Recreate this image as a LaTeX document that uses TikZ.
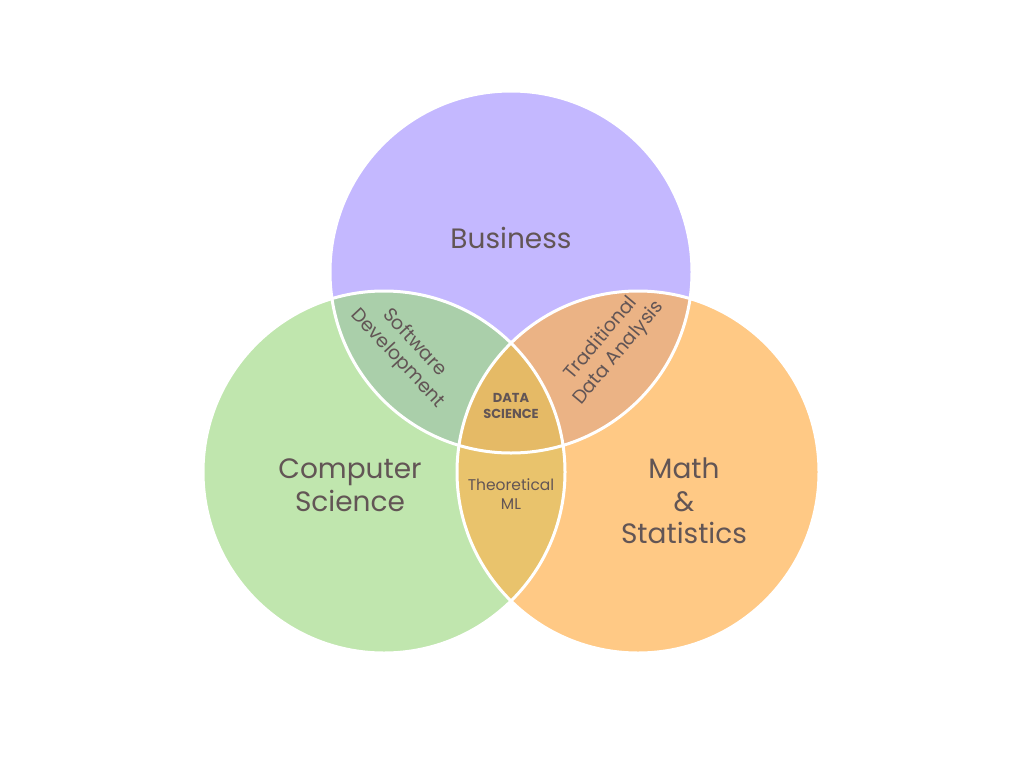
\documentclass[tikz,border=0pt]{standalone}
\usepackage{fontspec}
\setmainfont{Poppins}
\begin{document}
\begin{tikzpicture}[x=1pt,y=-1pt,
  lbl/.style={text=txt, align=center, inner sep=0pt},
  big/.style={lbl, font=\fontsize{28}{32.5}\selectfont},
  small/.style={lbl, font=\fontsize{19}{23}\selectfont},
  tiny/.style={lbl, font=\fontsize{15.5}{19}\selectfont}]
\definecolor{bus}{HTML}{C4B8FF}
\definecolor{cs}{HTML}{C0E6AE}
\definecolor{mat}{HTML}{FFC985}
\definecolor{buscs}{HTML}{AACFAA}
\definecolor{busmat}{HTML}{EBB385}
\definecolor{csmat}{HTML}{E9C36C}
\definecolor{core}{HTML}{E5BA66}
\definecolor{txt}{HTML}{625555}
\useasboundingbox[fill=white] (0,0) rectangle (1024,768);
\def\R{181}
\coordinate (B) at (511,272);
\coordinate (C) at (384,472);
\coordinate (M) at (638,472);
% base discs
\fill[bus] (B) circle (\R);
\fill[cs] (C) circle (\R);
\fill[mat] (M) circle (\R);
% pairwise overlaps
\begin{scope}\clip (B) circle (\R); \fill[buscs] (C) circle (\R); \end{scope}
\begin{scope}\clip (B) circle (\R); \fill[busmat] (M) circle (\R); \end{scope}
\begin{scope}\clip (C) circle (\R); \fill[csmat] (M) circle (\R); \end{scope}
% triple overlap
\begin{scope}\clip (B) circle (\R); \clip (C) circle (\R); \fill[core] (M) circle (\R); \end{scope}
% white outlines
\draw[white, line width=3pt] (B) circle (\R) (C) circle (\R) (M) circle (\R);
% labels
\node[big] (lb) at (511,238) {Business};
\node[big] (lc) at (350,485) {Computer\\Science};
\node[big] (lm) at (684,501) {Math\\\&\\Statistics};
\node[small, rotate=-47] (lsd) at (406,351) {Software\\Development};
\node[small, rotate=50] (lta) at (610,346) {Traditional\\Data Analysis};
\node[tiny] (ltm) at (511,494) {Theoretical\\ML};
\node[lbl, font=\bfseries\fontsize{13}{16}\selectfont] (lds) at (511,406) {DATA\\SCIENCE};
\end{tikzpicture}
\end{document}
